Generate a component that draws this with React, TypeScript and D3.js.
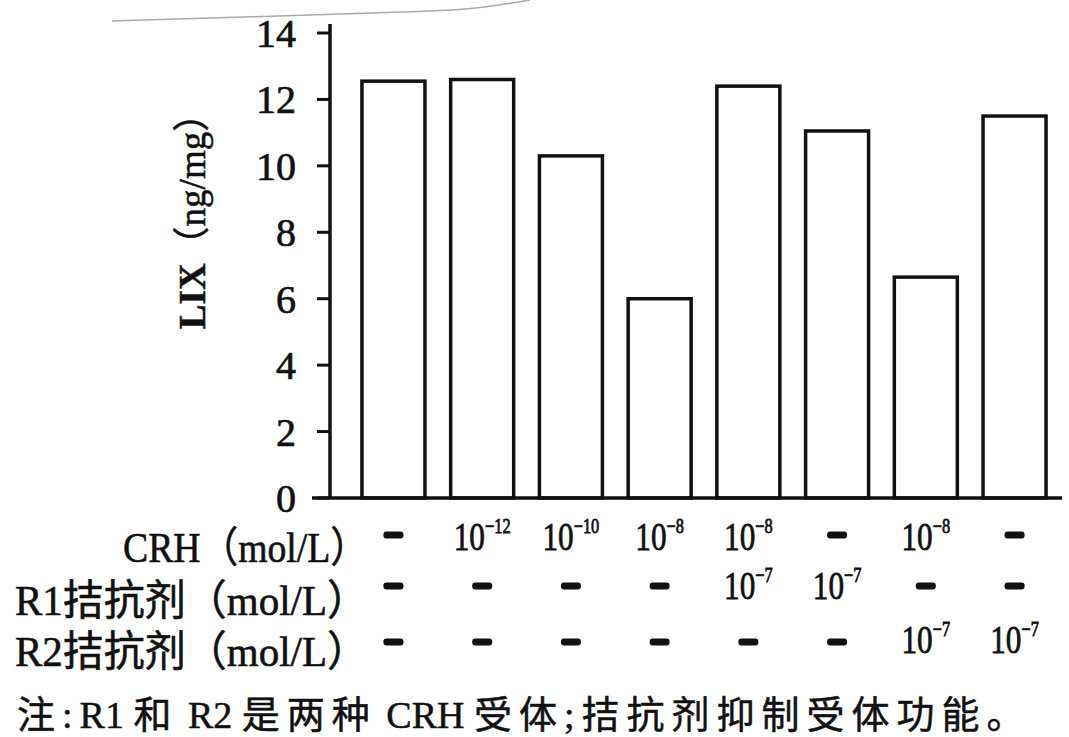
import React from 'react';
import * as d3 from 'd3';

// ---- data ----
const groups = ['G1', 'G2', 'G3', 'G4', 'G5', 'G6', 'G7', 'G8'];
const lixValues = [12.55, 12.6, 10.3, 6.0, 12.4, 11.05, 6.65, 11.5];
const yTicks = [0, 2, 4, 6, 8, 10, 12, 14];
// exponent of 10 for each group; null = "-" (not added)
const crhExp: (string | null)[] = [null, '−12', '−10', '−8', '−8', null, '−8', null];
const r1Exp: (string | null)[] = [null, null, null, null, '−7', '−7', null, null];
const r2Exp: (string | null)[] = [null, null, null, null, null, null, '−7', '−7'];
const rowLabels = ['CRH（mol/L）', 'R1拮抗剂（mol/L）', 'R2拮抗剂（mol/L）'];
const yLabelMain = 'LIX';
const yLabelUnit = '（ng/mg）';
const noteSegments = [
  { t: '注:', cjk: true },
  { t: 'R1 ', cjk: false },
  { t: '和', cjk: true },
  { t: ' R2 ', cjk: false },
  { t: '是两种', cjk: true },
  { t: ' CRH ', cjk: false },
  { t: '受体;拮抗剂抑制受体功能', cjk: true },
  { t: '。', cjk: false },
];

const W = 1069;
const H = 737;
const serif = '"Liberation Serif", "DejaVu Serif", "Noto Sans CJK SC", serif';

export default function App() {
  const y = d3.scaleLinear().domain([0, 14]).range([498, 33]);
  const x = d3
    .scaleBand<string>()
    .domain(groups)
    .range([330, 1078])
    .paddingInner(0.29)
    .paddingOuter(0.36);
  const bw = x.bandwidth();

  const rows = [
    { exps: crhExp, dashY: 535, textY: 550, labelY: 562, lx: 123, len: 245 },
    { exps: r1Exp, dashY: 586, textY: 599, labelY: 615, lx: 15, len: 353 },
    { exps: r2Exp, dashY: 642, textY: 653, labelY: 666, lx: 15, len: 353 },
  ];

  const artifact = d3.line().curve(d3.curveBasis)([
    [112, 21],
    [250, 17],
    [400, 12],
    [470, 10],
    [530, 0],
  ]) as string;

  return (
    <svg
      width={W}
      height={H}
      viewBox={`0 0 ${W} ${H}`}
      style={{ position: 'absolute', left: 0, top: 0, background: '#fff' }}
      fontFamily={serif}
    >
      <rect x={0} y={0} width={W} height={H} fill="#fff" />
      <path d={artifact} fill="none" stroke="#aaa" strokeWidth={1.5} />

      {/* bars */}
      {groups.map((g, i) => (
        <rect
          key={g}
          x={x(g)!}
          y={y(lixValues[i])}
          width={bw}
          height={y(0) - y(lixValues[i])}
          fill="#fff"
          stroke="#111"
          strokeWidth={3.5}
        />
      ))}

      {/* y axis */}
      <line x1={330} x2={330} y1={y(0)} y2={24} stroke="#111" strokeWidth={3.5} />
      {yTicks.map((t) => (
        <g key={t}>
          <line x1={317} x2={330} y1={y(t)} y2={y(t)} stroke="#111" strokeWidth={3} />
          <text
            x={296}
            y={y(t)}
            dy="0.35em"
            textAnchor="end"
            fontSize={40}
            fill="#111"
            stroke="#111"
            strokeWidth={0.7}
          >
            {t}
          </text>
        </g>
      ))}
      {/* x axis baseline */}
      <line x1={312} x2={1062} y1={y(0)} y2={y(0)} stroke="#111" strokeWidth={3.5} />

      {/* y label */}
      <text
        transform="translate(205,212) rotate(-90)"
        textAnchor="middle"
        fontSize={37}
        fill="#111"
        stroke="#111"
        strokeWidth={0.5}
      >
        <tspan fontWeight="bold">{yLabelMain}</tspan>
        <tspan>{yLabelUnit}</tspan>
      </text>

      {/* treatment table */}
      {rowLabels.map((lab, r) => (
        <text
          key={lab}
          x={rows[r].lx}
          y={rows[r].labelY}
          fontSize={42}
          fill="#111"
          stroke="#111"
          strokeWidth={0.6}
          textLength={rows[r].len}
          lengthAdjust="spacingAndGlyphs"
        >
          {lab}
        </text>
      ))}
      {rows.map((row, r) =>
        groups.map((g, i) => {
          const cx = x(g)! + bw / 2;
          const e = row.exps[i];
          if (e === null) {
            return (
              <rect
                key={`${r}-${g}`}
                x={cx - 10}
                y={row.dashY - 3.5}
                width={20}
                height={7}
                rx={3}
                fill="#111"
              />
            );
          }
          return (
            <text
              key={`${r}-${g}`}
              transform={`translate(${cx},${row.textY}) scale(0.78,1)`}
              textAnchor="middle"
              fill="#111"
              stroke="#111"
              strokeWidth={0.8}
            >
              <tspan fontSize={40}>10</tspan>
              <tspan fontSize={21} dy={-17}>
                {e}
              </tspan>
            </text>
          );
        })
      )}

      {/* note */}
      <text
        x={17}
        y={728}
        fontSize={38}
        fill="#111"
        stroke="#111"
        strokeWidth={0.5}
        fontFamily='"Liberation Serif", "Noto Sans CJK SC", serif'
      >
        {noteSegments.map((s, i) => (
          <tspan key={i} letterSpacing={s.cjk ? 7 : 0}>
            {s.t}
          </tspan>
        ))}
      </text>
    </svg>
  );
}
